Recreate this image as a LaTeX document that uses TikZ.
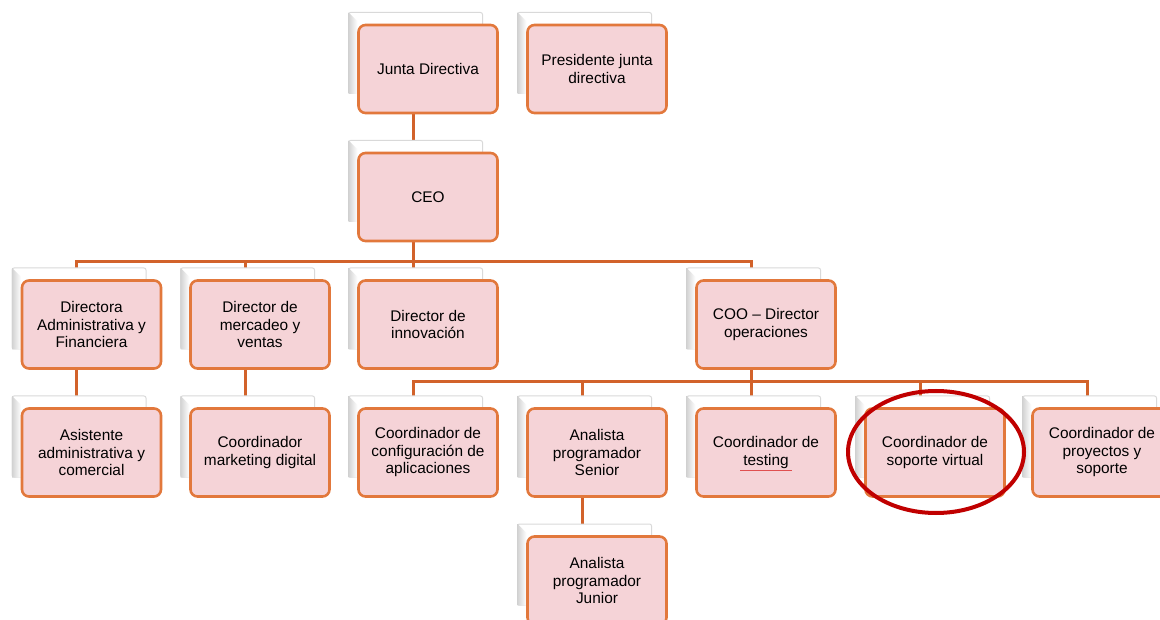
\documentclass[tikz,border=0pt]{standalone}
\usepackage{fontspec}
\setmainfont{Liberation Sans}
\usetikzlibrary{calc}
\definecolor{pinkfill}{HTML}{F5D3D7}
\definecolor{pinkedge}{HTML}{E2783C}
\definecolor{connc}{HTML}{D2622A}
\definecolor{ovalred}{HTML}{C00000}
\definecolor{spellred}{HTML}{E05050}
\begin{document}
\begin{tikzpicture}[x=1pt,y=-1pt,
  card/.style={draw=pinkedge,line width=2.6pt,fill=pinkfill,rounded corners=7pt,
    minimum width=139pt,minimum height=88pt,inner sep=2pt,align=center,
    font=\fontsize{15.4}{17.5}\selectfont,text=black},
  backcard/.style={draw=gray!30,line width=1pt,fill=white,rounded corners=2pt,
    minimum width=134pt,minimum height=81pt,inner sep=0pt},
  conn/.style={draw=connc,line width=3pt},
  oval/.style={draw=ovalred,line width=4pt}
]
\useasboundingbox (0,0) rectangle (1160,620);
\clip (0,0) rectangle (1160,620);

% positions of pink cards (centres)
\def\cA{91.5}\def\cB{260}\def\cC{428}\def\cD{597}\def\cE{766}\def\cF{935}\def\cG{1102}
\def\rA{69}\def\rB{197}\def\rC{324.5}\def\rD{452.5}\def\rE{580.5}

% attachment points of the back cards
\foreach \n/\x/\y in {jd/\cC/\rA, pj/\cD/\rA, ceo/\cC/\rB,
  dir/\cA/\rC, mer/\cB/\rC, inn/\cC/\rC, coo/\cE/\rC,
  asi/\cA/\rD, mkt/\cB/\rD, cfg/\cC/\rD, sen/\cD/\rD, tst/\cE/\rD, sop/\cF/\rD, pro/\cG/\rD,
  jun/\cD/\rE}{
  \coordinate (\n-b) at ($(\x,\y)+(-15,-15.5)$);
}

% connectors (behind the cards)
\draw[conn] (jd-b) -- (ceo-b);
\draw[conn] (ceo-b) -- (ceo-b |- 0,262) -| (dir-b);
\draw[conn] (ceo-b |- 0,262) -| (mer-b);
\draw[conn] (ceo-b) -- (inn-b);
\draw[conn] (ceo-b |- 0,262) -| (coo-b);
\draw[conn] (dir-b) -- (asi-b);
\draw[conn] (mer-b) -- (mkt-b);
\draw[conn] (coo-b) -- (coo-b |- 0,382) -| (cfg-b);
\draw[conn] (coo-b |- 0,382) -| (sen-b);
\draw[conn] (coo-b) -- (tst-b);
\draw[conn] (coo-b |- 0,382) -| (sop-b);
\draw[conn] (coo-b |- 0,382) -| (pro-b);
\draw[conn] (sen-b) -- (jun-b);

% cards
\foreach \n/\x/\y/\t in {
  jd/\cC/\rA/{Junta Directiva},
  pj/\cD/\rA/{Presidente junta\\directiva},
  ceo/\cC/\rB/{CEO},
  dir/\cA/\rC/{Directora\\Administrativa y\\Financiera},
  mer/\cB/\rC/{Director de\\mercadeo y\\ventas},
  inn/\cC/\rC/{Director de\\innovación},
  coo/\cE/\rC/{COO – Director\\operaciones},
  asi/\cA/\rD/{Asistente\\administrativa y\\comercial},
  mkt/\cB/\rD/{Coordinador\\marketing digital},
  cfg/\cC/\rD/{Coordinador de\\configuración de\\aplicaciones},
  sen/\cD/\rD/{Analista\\programador\\Senior},
  tst/\cE/\rD/{Coordinador de\\testing},
  sop/\cF/\rD/{Coordinador de\\soporte virtual},
  pro/\cG/\rD/{Coordinador de\\proyectos y\\soporte},
  jun/\cD/\rE/{Analista\\programador\\Junior}}{
  \node[backcard] (\n-bk) at ($(\x,\y)+(-12.5,-16)$) {};
  \shade[left color=gray!35,right color=white]
    ([xshift=0.5pt,yshift=-0.5pt]\n-bk.north west) -- ++(9,9) -- ([xshift=9.5pt]\n-bk.south west) -- ([xshift=0.5pt]\n-bk.south west) -- cycle;
  \node[card] (\n) at (\x,\y) {\t};
}

% spell-check underline under "testing"
\draw[spellred,line width=0.8pt] (740,470) -- (792,470);

% red oval
\draw[oval] (936,452) ellipse [x radius=88, y radius=61];
\end{tikzpicture}
\end{document}
